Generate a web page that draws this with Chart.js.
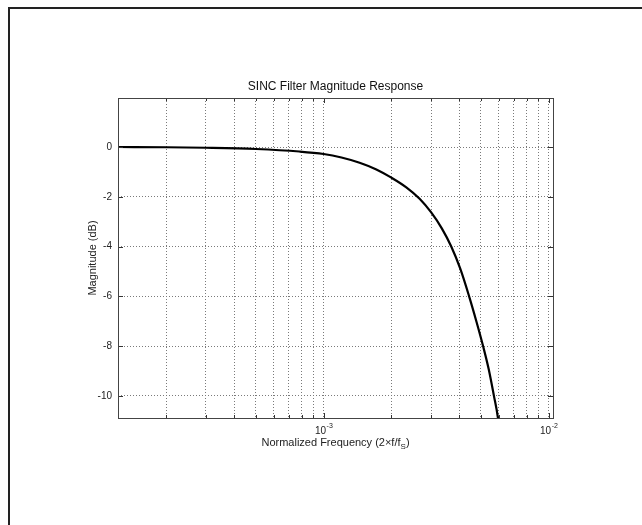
<!DOCTYPE html>
<html>
<head>
<meta charset="utf-8">
<script src="https://cdn.jsdelivr.net/npm/chart.js@4"></script>
<style>
  html, body { margin: 0; padding: 0; background: #fff; }
  #wrap { position: relative; width: 642px; height: 525px; overflow: hidden; }
  #frame { position: absolute; left: 8px; top: 7px; width: 700px; height: 600px;
           border-top: 2px solid #222; border-left: 2px solid #222; }
  canvas { position: absolute; left: 0; top: 0; }
</style>
</head>
<body>
<div id="wrap">
  <div id="frame"></div>
  <canvas id="c" width="642" height="525"></canvas>
</div>
<script>
// Data
const freqs = [1.22e-4, 2e-4, 3e-4, 5e-4, 7.8e-4, 1e-3, 1.2e-3, 1.445e-3, 1.715e-3, 2e-3,
               2.33e-3, 2.67e-3, 3e-3, 3.35e-3, 3.69e-3, 4.05e-3, 4.43e-3, 4.78e-3, 5.11e-3,
               5.42e-3, 5.71e-3, 5.95e-3, 6.2e-3];
const magnitudes = [0, -0.01, -0.03, -0.08, -0.18, -0.28, -0.42, -0.63, -0.9, -1.23,
                    -1.62, -2.08, -2.62, -3.27, -4.0, -4.9, -6.0, -7.03, -8.0,
                    -8.95, -10.0, -10.89, -12.4];
const xTicks = [2e-4, 3e-4, 4e-4, 5e-4, 6e-4, 7e-4, 8e-4, 9e-4, 1e-3,
                2e-3, 3e-3, 4e-3, 5e-3, 6e-3, 7e-3, 8e-3, 9e-3, 1e-2];
const xTickLabels = { "0.001": "-3", "0.01": "-2" };
const yTicks = [-10, -8, -6, -4, -2, 0];
const titleText = "SINC Filter Magnitude Response";
const yTitle = "Magnitude (dB)";
const xTitleMain = "Normalized Frequency (2\u00d7f/f";
const xTitleSub = "S";

const FONT = "'Liberation Sans', Arial, sans-serif";

const decorPlugin = {
  id: 'decor',
  afterDraw(chart) {
    const ctx = chart.ctx;
    const a = chart.chartArea;
    const xs = chart.scales.x, ys = chart.scales.y;
    ctx.save();
    // tick marks
    ctx.strokeStyle = '#333';
    ctx.lineWidth = 1;
    ctx.beginPath();
    xTicks.forEach(v => {
      const px = Math.round(xs.getPixelForValue(v)) + 0.5;
      const len = xTickLabels[String(v)] ? 5 : 3;
      ctx.moveTo(px, a.bottom); ctx.lineTo(px, a.bottom - len);
      ctx.moveTo(px, a.top); ctx.lineTo(px, a.top + len);
    });
    yTicks.forEach(v => {
      const py = Math.round(ys.getPixelForValue(v)) + 0.5;
      ctx.moveTo(a.left, py); ctx.lineTo(a.left + 5, py);
      ctx.moveTo(a.right, py); ctx.lineTo(a.right - 5, py);
    });
    ctx.stroke();
    // axes box
    ctx.strokeStyle = '#444';
    ctx.strokeRect(Math.round(a.left) + 0.5, Math.round(a.top) + 0.5,
                   Math.round(a.right - a.left), Math.round(a.bottom - a.top));
    // x tick labels with superscripts
    ctx.fillStyle = '#222';
    ctx.textBaseline = 'alphabetic';
    Object.keys(xTickLabels).forEach(k => {
      const v = parseFloat(k);
      const px = xs.getPixelForValue(v);
      ctx.font = '10px ' + FONT;
      const w1 = ctx.measureText('10').width;
      ctx.font = '7px ' + FONT;
      const w2 = ctx.measureText(xTickLabels[k]).width;
      const x0 = px - (w1 + w2) / 2;
      ctx.font = '10px ' + FONT;
      ctx.textAlign = 'left';
      ctx.fillText('10', x0, a.bottom + 16);
      ctx.font = '7px ' + FONT;
      ctx.fillText(xTickLabels[k], x0 + w1 + 0.5, a.bottom + 10);
    });
    // x axis title with subscript
    ctx.font = '11px ' + FONT;
    const wm = ctx.measureText(xTitleMain).width;
    ctx.font = '8px ' + FONT;
    const ws = ctx.measureText(xTitleSub).width;
    ctx.font = '11px ' + FONT;
    const wp = ctx.measureText(')').width;
    const cx = (a.left + a.right) / 2;
    let tx = cx - (wm + ws + wp) / 2;
    ctx.fillText(xTitleMain, tx, a.bottom + 28);
    ctx.font = '8px ' + FONT;
    ctx.fillText(xTitleSub, tx + wm, a.bottom + 31);
    ctx.font = '11px ' + FONT;
    ctx.fillText(')', tx + wm + ws, a.bottom + 28);
    // y axis title
    ctx.save();
    ctx.translate(a.left - 22, (a.top + a.bottom) / 2);
    ctx.rotate(-Math.PI / 2);
    ctx.textAlign = 'center';
    ctx.font = '11px ' + FONT;
    ctx.fillText(yTitle, 0, 0);
    ctx.restore();
    // title
    ctx.textAlign = 'center';
    ctx.font = '12px ' + FONT;
    ctx.fillStyle = '#111';
    ctx.fillText(titleText, cx, a.top - 8);
    ctx.restore();
  }
};

new Chart(document.getElementById('c'), {
  type: 'line',
  data: {
    datasets: [{
      data: freqs.map((f, i) => ({ x: f, y: magnitudes[i] })),
      borderColor: '#000',
      borderWidth: 2.2,
      pointRadius: 0,
      cubicInterpolationMode: 'monotone',
      fill: false
    }]
  },
  options: {
    responsive: false,
    animation: false,
    devicePixelRatio: 1,
    layout: { padding: { top: 98, right: 89, left: 0, bottom: 0 } },
    plugins: { legend: { display: false }, title: { display: false }, tooltip: { enabled: false } },
    scales: {
      x: {
        type: 'logarithmic',
        min: 1.22e-4,
        max: 1.045e-2,
        afterBuildTicks: s => { s.ticks = xTicks.map(v => ({ value: v })); },
        afterFit: s => { s.height = 107; },
        ticks: { display: false },
        grid: { color: '#7a7a7a', lineWidth: 1, drawTicks: false },
        border: { display: false, dash: [1, 2] }
      },
      y: {
        min: -10.89,
        max: 1.97,
        afterBuildTicks: s => { s.ticks = yTicks.map(v => ({ value: v })); },
        afterFit: s => { s.width = 118; },
        ticks: { color: '#222', font: { family: FONT, size: 10 }, padding: 6 },
        grid: { color: '#7a7a7a', lineWidth: 1, drawTicks: false },
        border: { display: false, dash: [1, 2] }
      }
    }
  },
  plugins: [decorPlugin]
});
</script>
</body>
</html>
